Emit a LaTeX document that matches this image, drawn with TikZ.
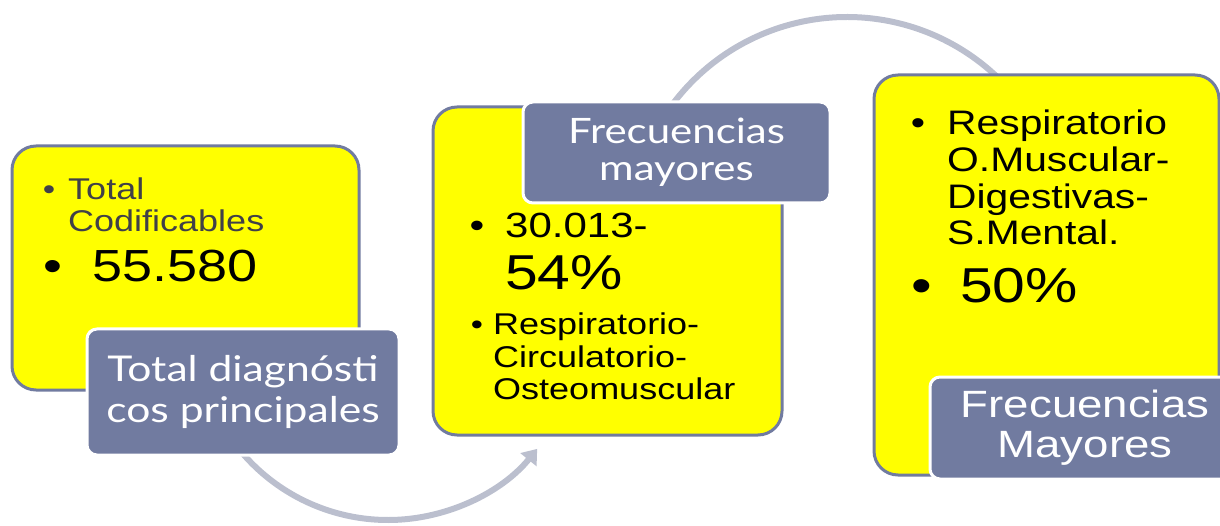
\documentclass[tikz,border=0pt]{standalone}
\usepackage{fontspec}
\setmainfont[FakeStretch=1.2]{Liberation Sans}
\newfontfamily\tagfont[FakeStretch=1.2]{Lato}
\usetikzlibrary{arrows.meta}
\definecolor{slate}{HTML}{717BA0}
\definecolor{arcgrey}{HTML}{BBBFCE}
\definecolor{textgrey}{HTML}{404048}
\definecolor{panelyellow}{RGB}{255,255,0}

\begin{document}
\begin{tikzpicture}[x=1pt, y=1pt,
        panel/.style={draw=slate, line width=3pt, fill=panelyellow, rounded corners=24pt, inner sep=0pt},
        tag/.style={draw=white, line width=3pt, fill=slate, rounded corners=10pt, text=white, align=center, inner sep=0pt},
        loop/.style={draw=arcgrey, line width=6pt},
        item/.style={anchor=base west, inner sep=0pt, align=left},
        dot/.style={anchor=base, inner sep=0pt}]
                \useasboundingbox (0,0) rectangle (1220,525);
                \clip (0,0) rectangle (1220,525);
                \coordinate (C1) at (388,197);
                \coordinate (C2) at (847,290);
                \draw[loop, -{Triangle[length=14pt, width=20pt]}] ([shift={(216:192)}]C1) arc (216:321:192);
                \draw[loop] ([shift={(145:218)}]C2) arc (145:45:218);

                \node[panel, minimum width=347pt, minimum height=244pt] (box1) at (185.5,257) {};
                \node[dot, text=textgrey, font=\fontsize{29.5}{32}\selectfont] (b1) at (49,325) {•};
                \node[item, text=textgrey, font=\fontsize{30}{32}\selectfont] (codif) at (68,293) {Total\\Codificables};
                \node[dot, font=\fontsize{45}{50}\selectfont] (b2) at (53,243) {•};
                \node[item, font=\fontsize{45}{50}\selectfont] (total) at (92,243) {55.580};
                \node[tag, minimum width=312pt, minimum height=126pt, font=\tagfont\fontsize{35.5}{41}\selectfont] (tag1) at (243,133) {Total diagnósti\\cos principales};

                \node[panel, minimum width=349pt, minimum height=328pt] (box2) at (607.5,254) {};
                \node[dot, font=\fontsize{35}{40}\selectfont] (b3) at (477,287) {•};
                \node[item, font=\fontsize{35}{40}\selectfont] (count) at (505,287) {30.013-};
                \node[item, font=\fontsize{49}{52}\selectfont] (pct1) at (505,235) {54\%};
                \node[dot, font=\fontsize{29}{32.5}\selectfont] (b4) at (477,190) {•};
                \node[item, font=\fontsize{30}{32.5}\selectfont] (groups1) at (493,125) {Respiratorio-\\Circulatorio-\\Osteomuscular};
                \node[tag, minimum width=307pt, minimum height=101pt, font=\tagfont\fontsize{35}{37}\selectfont] (tag2) at (676.5,372.5) {Frecuencias\\mayores};

                \node[panel, minimum width=345pt, minimum height=400pt] (box3) at (1046.5,250) {};
                \node[dot, font=\fontsize{34}{36.7}\selectfont] (b5) at (918,390) {•};
                \node[item, font=\fontsize{34}{36.7}\selectfont] (groups2) at (947,280) {Respiratorio\\O.Muscular-\\Digestivas-\\S.Mental.};
                \node[dot, font=\fontsize{49}{52}\selectfont] (b6) at (922,222) {•};
                \node[item, font=\fontsize{49}{52}\selectfont] (pct2) at (960,222) {50\%};
                \node[tag, minimum width=310pt, minimum height=102pt, font=\fontsize{38}{40}\selectfont] (tag3) at (1085,97) {Frecuencias\\Mayores};
            \end{tikzpicture}
\end{document}
